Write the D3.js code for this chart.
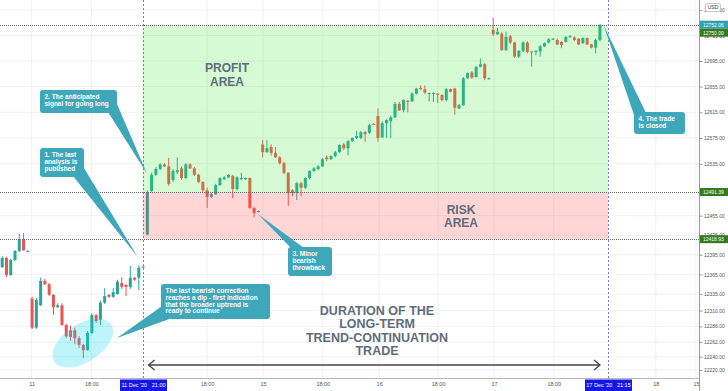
<!DOCTYPE html>
<html>
<head>
<meta charset="utf-8">
<script src="https://cdn.jsdelivr.net/npm/d3@7"></script>
<style>
  body { margin: 0; background: #fff; }
  svg { display: block; font-family: "Liberation Sans", Arial, sans-serif; }
</style>
</head>
<body>
<div id="chart"></div>
<script>
let width = 728, height = 391;
let plotRight = 699, plotBottom = 378;

// hourly candles, [open, high, low, close]
const bars = [
  [12376,12393,12375,12390],[12390,12392,12361,12364],[12364,12389,12363,12387],[12387,12402,12385,12401],
  [12401,12427,12399,12418],[12418,12428,12401,12402],[12400,12402,12399,12401],[12328,12331,12282,12284],
  [12284,12329,12282,12326],[12318,12360,12317,12355],[12355,12358,12349,12350],[12350,12352,12332,12334],
  [12334,12335,12303,12315],[12315,12321,12314,12318],[12318,12321,12287,12288],[12288,12290,12268,12271],
  [12280,12287,12264,12270],[12280,12284,12259,12268],[12268,12271,12253,12258],[12258,12259,12238,12250],
  [12250,12279,12249,12276],[12276,12306,12274,12303],[12303,12305,12291,12294],[12296,12325,12288,12322],
  [12322,12344,12320,12332],[12334,12335,12329,12331],[12331,12344,12329,12338],[12335,12357,12334,12354],
  [12352,12361,12343,12346],[12349,12350,12332,12346],[12346,12378,12343,12360],[12360,12361,12355,12357],
  [12360,12379,12341,12375],[12377,12378,12375,12376],
  [12426,12494,12425,12491.39],[12493,12521,12491,12518],[12518,12530,12516,12527],[12527,12536,12525,12534],
  [12534,12536,12530,12531],[12531,12544,12501,12504],[12510,12527,12507,12524],[12522,12545,12519,12525],
  [12528,12531,12510,12513],[12513,12536,12511,12534],[12534,12536,12527,12528],[12528,12530,12516,12518],
  [12518,12519,12505,12507],[12507,12508,12491,12494],[12494,12498,12467,12484],[12484,12490,12482,12488],
  [12488,12504,12487,12502],[12502,12514,12501,12513],[12511,12516,12510,12514],[12514,12519,12513,12518],
  [12516,12518,12482,12496],[12496,12516,12494,12514],[12511,12521,12510,12513],[12511,12514,12510,12513],
  [12513,12514,12465,12467],[12467,12468,12453,12459],[12461,12463,12460,12462],
  [12565,12572,12545,12553],[12553,12572,12552,12559],[12561,12565,12548,12552],[12552,12561,12544,12545],
  [12545,12547,12534,12536],[12536,12538,12519,12521],[12521,12522,12470,12490],[12494,12496,12485,12490],
  [12490,12507,12479,12505],[12505,12507,12485,12498],[12498,12514,12496,12513],[12513,12525,12511,12524],
  [12524,12530,12522,12528],[12527,12533,12525,12531],[12531,12544,12530,12542],[12545,12548,12539,12542],
  [12542,12548,12541,12547],[12547,12555,12545,12553],[12553,12565,12552,12564],[12565,12567,12556,12559],
  [12559,12572,12548,12570],[12570,12576,12569,12575],[12575,12586,12573,12578],[12575,12586,12573,12584],
  [12584,12586,12569,12581],[12583,12597,12581,12595],[12597,12598,12595,12596],[12609,12621,12569,12575],
  [12576,12601,12575,12598],[12598,12604,12575,12603],[12601,12610,12575,12607],[12607,12631,12606,12628],
  [12628,12631,12617,12618],[12618,12635,12615,12634],[12633,12634,12615,12631],[12632,12646,12631,12644],
  [12644,12653,12643,12652],[12653,12657,12650,12651],[12651,12657,12643,12646],[12644,12646,12632,12645],
  [12644,12646,12631,12645],[12644,12645,12629,12642],[12642,12643,12632,12634],[12634,12653,12632,12651],
  [12651,12652,12646,12647],[12652,12653,12611,12622],[12621,12628,12620,12626],[12626,12670,12625,12668],
  [12668,12677,12667,12676],[12677,12679,12667,12669],[12670,12687,12669,12686],[12686,12699,12685,12690],
  [12690,12692,12665,12668],[12667,12669,12666,12668],
  [12744,12763,12734,12737],[12737,12747,12736,12741],[12738,12741,12711,12712],[12712,12741,12711,12733],
  [12734,12736,12722,12724],[12724,12725,12700,12702],[12702,12712,12700,12711],[12711,12726,12709,12724],
  [12724,12726,12707,12709],[12709,12711,12686,12710],[12709,12712,12704,12711],[12710,12720,12702,12718],
  [12718,12724,12717,12723],[12724,12731,12723,12729],[12729,12731,12728,12730],[12728,12730,12720,12721],
  [12725,12726,12715,12720],[12725,12734,12724,12733],[12733,12736,12731,12734],[12732,12734,12726,12728],
  [12730,12731,12720,12721],[12723,12732,12722,12731],[12731,12732,12720,12721],[12721,12722,12715,12716],
  [12716,12730,12707,12728],[12728,12752.06,12726,12752.06]
];

const priceTicks = [12220, 12240, 12262, 12286, 12310, 12335, 12365, 12395, 12425, 12455,
                    12535, 12575, 12615, 12655, 12695, 12735, 12775];

const timeTickIdx = [7, 21, 48.1, 61.2, 75.2, 88.4, 102.2, 115.3, 129.3, 153.2, 162.6];
const timeTickLabels = ["11", "18:00", "18:00", "15", "18:00", "16", "18:00", "17", "18:00", "18", "15"];

const entryIdx = 33, exitIdx = 142;
const entryDate = "11 Dec '20   21:00", exitDate = "17 Dec '20   21:15";
const entryPrice = 12491.39, stopPrice = 12418.93, targetPrice = 12752.06, targetLabel = 12750.00;

let xScale = d3.scaleLinear().domain([0, 142]).range([1.7, 608]);
let yScale = d3.scaleLog().domain([12220, targetPrice]).range([370, 24.7]);

let svg = d3.select("#chart").append("svg")
    .attr("width", width)
    .attr("height", height);

svg.append("rect").attr("width", width).attr("height", height).attr("fill", "#fff");

svg.append("defs").append("clipPath").attr("id", "plotClip")
    .append("rect").attr("width", plotRight).attr("height", plotBottom);

let plot = svg.append("g").attr("clip-path", "url(#plotClip)");

// grid
plot.selectAll(".vgrid").data(timeTickIdx).enter().append("line")
    .attr("x1", d => xScale(d)).attr("x2", d => xScale(d))
    .attr("y1", 0).attr("y2", plotBottom)
    .attr("stroke", "#f0f1f5").attr("stroke-width", 1);

plot.selectAll(".hgrid").data(priceTicks).enter().append("line")
    .attr("x1", 0).attr("x2", plotRight)
    .attr("y1", d => yScale(d)).attr("y2", d => yScale(d))
    .attr("stroke", "#f0f1f5").attr("stroke-width", 1);

// candles
let upColor = "#26a69a", downColor = "#ef5350";
let candle = plot.selectAll(".candle").data(bars).enter().append("g");

candle.append("line")
    .attr("x1", (d, i) => xScale(i) + 0.5).attr("x2", (d, i) => xScale(i) + 0.5)
    .attr("y1", d => yScale(d[1])).attr("y2", d => yScale(d[2]))
    .attr("stroke", d => d[3] >= d[0] ? upColor : downColor)
    .attr("stroke-width", 1);

candle.append("rect")
    .attr("x", (d, i) => xScale(i) - 1)
    .attr("y", d => yScale(Math.max(d[0], d[3])))
    .attr("width", 3)
    .attr("height", d => Math.max(1, yScale(Math.min(d[0], d[3])) - yScale(Math.max(d[0], d[3]))))
    .attr("fill", d => d[3] >= d[0] ? upColor : downColor);

// profit / risk zones
plot.append("rect")
    .attr("x", xScale(entryIdx)).attr("y", yScale(targetPrice))
    .attr("width", xScale(exitIdx) - xScale(entryIdx))
    .attr("height", yScale(entryPrice) - yScale(targetPrice))
    .attr("fill", "rgba(60,230,50,0.21)");

plot.append("rect")
    .attr("x", xScale(entryIdx)).attr("y", yScale(entryPrice))
    .attr("width", xScale(exitIdx) - xScale(entryIdx))
    .attr("height", yScale(stopPrice) - yScale(entryPrice))
    .attr("fill", "rgba(255,70,70,0.22)");

// highlight ellipse around the dip
plot.append("ellipse")
    .attr("transform", "translate(" + xScale(19) + "," + (yScale(12253) - 5) + ") rotate(-33)")
    .attr("rx", 34).attr("ry", 19)
    .attr("fill", "rgba(0,215,235,0.26)");

// level lines
plot.selectAll(".level").data([targetPrice, entryPrice, stopPrice]).enter().append("line")
    .attr("x1", 0).attr("x2", plotRight)
    .attr("y1", d => Math.round(yScale(d)) + 0.5).attr("y2", d => Math.round(yScale(d)) + 0.5)
    .attr("stroke", "#666").attr("stroke-width", 1).attr("stroke-dasharray", "1,1");

plot.selectAll(".vmark").data([entryIdx, exitIdx]).enter().append("line")
    .attr("x1", d => Math.round(xScale(d)) + 0.5).attr("x2", d => Math.round(xScale(d)) + 0.5)
    .attr("y1", 0).attr("y2", plotBottom)
    .attr("stroke", "#7c7cc8").attr("stroke-width", 1).attr("stroke-dasharray", "2,2");

// big labels
function bigText(lines, cx, y0, size, lh) {
    let t = plot.append("text")
        .attr("text-anchor", "middle")
        .attr("font-weight", "bold")
        .attr("font-size", size)
        .attr("fill", "#5f6c7a");
    lines.forEach((l, i) => t.append("tspan").attr("x", cx).attr("y", y0 + i * lh).text(l));
}
bigText(["PROFIT", "AREA"], 227, 72, 12, 14);
bigText(["RISK", "AREA"], 461, 214, 12, 13);
bigText(["DURATION OF THE", "LONG-TERM", "TREND-CONTINUATION", "TRADE"], 377, 315, 12.5, 13.3);

// duration arrow
let arrowY = 365;
plot.append("line")
    .attr("x1", xScale(entryIdx) + 6).attr("x2", xScale(exitIdx) - 8)
    .attr("y1", arrowY).attr("y2", arrowY)
    .attr("stroke", "#444").attr("stroke-width", 1.3);
plot.append("path")
    .attr("d", "M" + (xScale(entryIdx) + 12) + "," + (arrowY - 5) + " L" + (xScale(entryIdx) + 6) + "," + arrowY +
               " L" + (xScale(entryIdx) + 12) + "," + (arrowY + 5))
    .attr("fill", "none").attr("stroke", "#444").attr("stroke-width", 1.3);
plot.append("path")
    .attr("d", "M" + (xScale(exitIdx) - 14) + "," + (arrowY - 5) + " L" + (xScale(exitIdx) - 8) + "," + arrowY +
               " L" + (xScale(exitIdx) - 14) + "," + (arrowY + 5))
    .attr("fill", "none").attr("stroke", "#444").attr("stroke-width", 1.3);

// callouts
let calloutColor = "#3ea8ba";
function callout(box, base, tip, lines) {
    plot.append("path")
        .attr("d", "M" + base[0][0] + "," + base[0][1] + " L" + tip[0] + "," + tip[1] +
                   " L" + base[1][0] + "," + base[1][1] + "Z")
        .attr("fill", calloutColor);
    plot.append("rect")
        .attr("x", box[0]).attr("y", box[1]).attr("width", box[2]).attr("height", box[3])
        .attr("rx", 3).attr("fill", calloutColor);
    let t = plot.append("text")
        .attr("font-size", 6.5)
        .attr("font-weight", "bold")
        .attr("fill", "#fff");
    lines.forEach((l, i) => t.append("tspan")
        .attr("x", box[0] + 4.5)
        .attr("y", box[1] + 9 + i * 6.8)
        .text(l));
}
callout([40, 148, 44, 29], [[73, 176], [84, 168]], [xScale(33) - 5, yScale(12395) + 2],
        ["1. The last", "analysis is", "published"]);
callout([40, 90, 77, 23], [[108, 112], [117, 104]], [xScale(34), yScale(12520)],
        ["2. The anticipated", "signal for going long"]);
callout([288, 247, 44, 29], [[291, 248], [304, 248]], [xScale(60), yScale(12462) + 3],
        ["3. Minor", "bearish", "throwback"]);
callout([634, 112, 51, 22], [[635, 118], [646, 113]], [xScale(140) + 4, yScale(targetPrice)],
        ["4. The trade", "is closed"]);
callout([161, 284, 109, 35], [[162, 306], [172, 318]], [117, 338],
        ["The last bearish correction", "reaches a dip - first indication",
         "that the broader uptrend is", "ready to continue"]);

// bottom axis
svg.append("line")
    .attr("x1", 0).attr("x2", plotRight)
    .attr("y1", plotBottom + 0.5).attr("y2", plotBottom + 0.5)
    .attr("stroke", "#b8b8b8");

let xAxis = d3.axisBottom(xScale)
    .tickValues(timeTickIdx)
    .tickFormat((d, i) => timeTickLabels[i])
    .tickSize(0)
    .tickPadding(4.5);

let gX = svg.append("g")
    .attr("transform", "translate(0," + plotBottom + ")")
    .call(xAxis);
gX.select(".domain").remove();
gX.selectAll("text").attr("font-size", 5.5).attr("fill", "#555");

// date markers on the time axis
[[entryIdx, entryDate], [exitIdx, exitDate]].forEach(function(m) {
    let cx = Math.round(xScale(m[0])) + 0.5;
    svg.append("rect")
        .attr("x", cx - 23.5).attr("y", plotBottom + 1.5)
        .attr("width", 47).attr("height", 11.5)
        .attr("fill", "#1616e8");
    svg.append("text")
        .attr("x", cx).attr("y", plotBottom + 9.3)
        .attr("text-anchor", "middle")
        .attr("font-size", 5.5)
        .attr("fill", "#fff")
        .attr("xml:space", "preserve")
        .text(m[1]);
});

// price axis
svg.append("rect").attr("x", plotRight).attr("y", 0).attr("width", width - plotRight).attr("height", height).attr("fill", "#fff");

let yAxis = d3.axisRight(yScale)
    .tickValues(priceTicks)
    .tickFormat(d3.format(".2f"))
    .tickSize(3)
    .tickPadding(1.5);

let gY = svg.append("g")
    .attr("transform", "translate(" + (plotRight + 0.5) + ",0)")
    .call(yAxis);
gY.select(".domain").attr("stroke", "#9a9a9a").attr("d", "M0,0V" + height);
gY.selectAll(".tick line").attr("stroke", "#9a9a9a");
gY.selectAll("text").attr("font-size", 5).attr("fill", "#555");

// price labels
let priceLabels = [
    [targetPrice, "#2ba3b3", yScale(targetPrice)],
    [targetLabel, "#357a1f", yScale(targetPrice) + 8],
    [entryPrice, "#357a1f", yScale(entryPrice)],
    [stopPrice, "#357a1f", yScale(stopPrice)]
];
priceLabels.forEach(function(p) {
    svg.append("rect")
        .attr("x", plotRight + 1).attr("y", p[2] - 4)
        .attr("width", width - plotRight - 1).attr("height", 8)
        .attr("fill", p[1]);
    svg.append("text")
        .attr("x", plotRight + 4).attr("y", p[2] + 1.8)
        .attr("font-size", 5)
        .attr("fill", "#fff")
        .text(d3.format(".2f")(p[0]));
});

// currency tag
svg.append("rect")
    .attr("x", 705.5).attr("y", 3.5).attr("width", 15).attr("height", 8)
    .attr("rx", 1.5).attr("fill", "#fff").attr("stroke", "#c8c8c8");
svg.append("text")
    .attr("x", 713).attr("y", 9.3).attr("text-anchor", "middle")
    .attr("font-size", 5).attr("fill", "#333")
    .text("USD");
</script>
</body>
</html>
